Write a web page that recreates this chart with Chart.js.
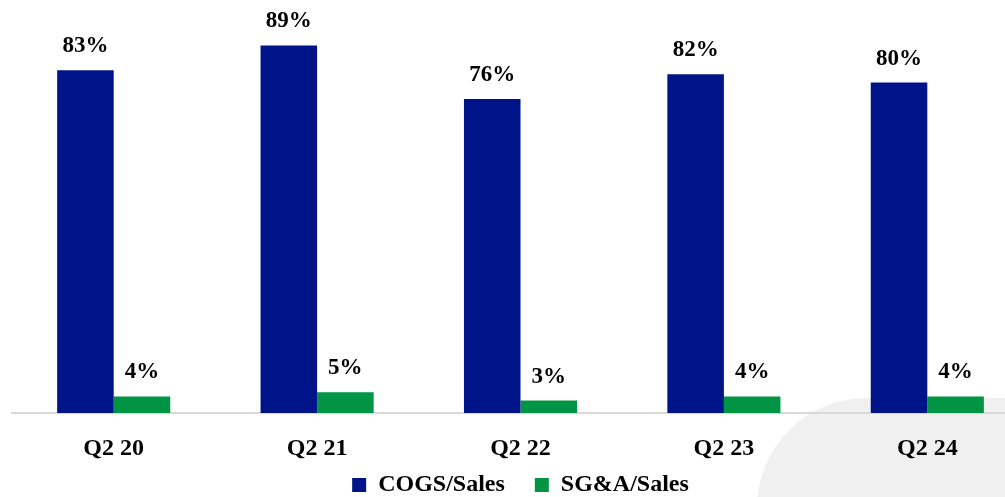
<!DOCTYPE html>
<html>
<head>
<meta charset="utf-8">
<script src="https://cdn.jsdelivr.net/npm/chart.js@4"></script>
<style>
  html, body { margin: 0; padding: 0; background: #fff; overflow: hidden; }
  #wrap { position: relative; width: 1044px; height: 497px; }
  #shape {
    position: absolute; left: 757px; top: 398px; width: 400px; height: 200px;
    background: #f0f0f0; border-top-left-radius: 110px;
  }
  #chart-box { position: absolute; left: 0; top: 0; width: 1044px; height: 497px; }
</style>
</head>
<body>
<div id="wrap">
  <div id="shape"></div>
  <div id="chart-box"><canvas id="chart"></canvas></div>
</div>
<script>
const quarters = ['Q2 20', 'Q2 21', 'Q2 22', 'Q2 23', 'Q2 24'];
const cogsSales = [83, 89, 76, 82, 80];
const sgaSales = [4, 5, 3, 4, 4];

const NAVY = '#001489';
const GREEN = '#009444';
const FONT = "'Liberation Serif', 'Times New Roman', serif";

// percentage printed above every bar
const barLabels = {
  id: 'barLabels',
  afterDatasetsDraw(chart) {
    const ctx = chart.ctx;
    ctx.save();
    ctx.font = 'bold 23px ' + FONT;
    ctx.fillStyle = '#000';
    ctx.textAlign = 'center';
    ctx.textBaseline = 'alphabetic';
    chart.data.datasets.forEach((ds, i) => {
      chart.getDatasetMeta(i).data.forEach((bar, j) => {
        ctx.fillText(ds.data[j] + '%', bar.x, bar.y - 18);
      });
    });
    ctx.restore();
  }
};

// the x axis box is kept short so the legend sits close under it;
// let its tick labels run down into the legend band without being clipped
const tickRoom = {
  id: 'tickRoom',
  afterLayout(chart) {
    chart.scales.x.bottom = chart.height;
  }
};

new Chart(document.getElementById('chart'), {
  type: 'bar',
  data: {
    labels: quarters,
    datasets: [
      { label: 'COGS/Sales', data: cogsSales, backgroundColor: NAVY },
      { label: 'SG&A/Sales', data: sgaSales, backgroundColor: GREEN }
    ]
  },
  options: {
    responsive: true,
    maintainAspectRatio: false,
    animation: false,
    layout: { padding: { left: 12, right: 15, top: 0, bottom: 0 } },
    datasets: { bar: { categoryPercentage: 0.556, barPercentage: 1.0 } },
    scales: {
      x: {
        grid: { display: false, drawTicks: false },
        border: { display: true, color: '#d9d9d9', width: 2 },
        ticks: { color: '#000', font: { family: FONT, size: 24, weight: 'bold', lineHeight: 1 }, padding: 24 },
        afterFit(scale) { scale.height = 30; }
      },
      y: { display: false, min: 0, max: 100 }
    },
    plugins: {
      legend: {
        position: 'bottom',
        maxHeight: 54,
        labels: {
          color: '#000',
          boxWidth: 14,
          boxHeight: 14,
          padding: 30,
          font: { family: FONT, size: 24, weight: 'bold', lineHeight: 1 }
        }
      },
      tooltip: { enabled: false }
    }
  },
  plugins: [barLabels, tickRoom]
});
</script>
</body>
</html>
